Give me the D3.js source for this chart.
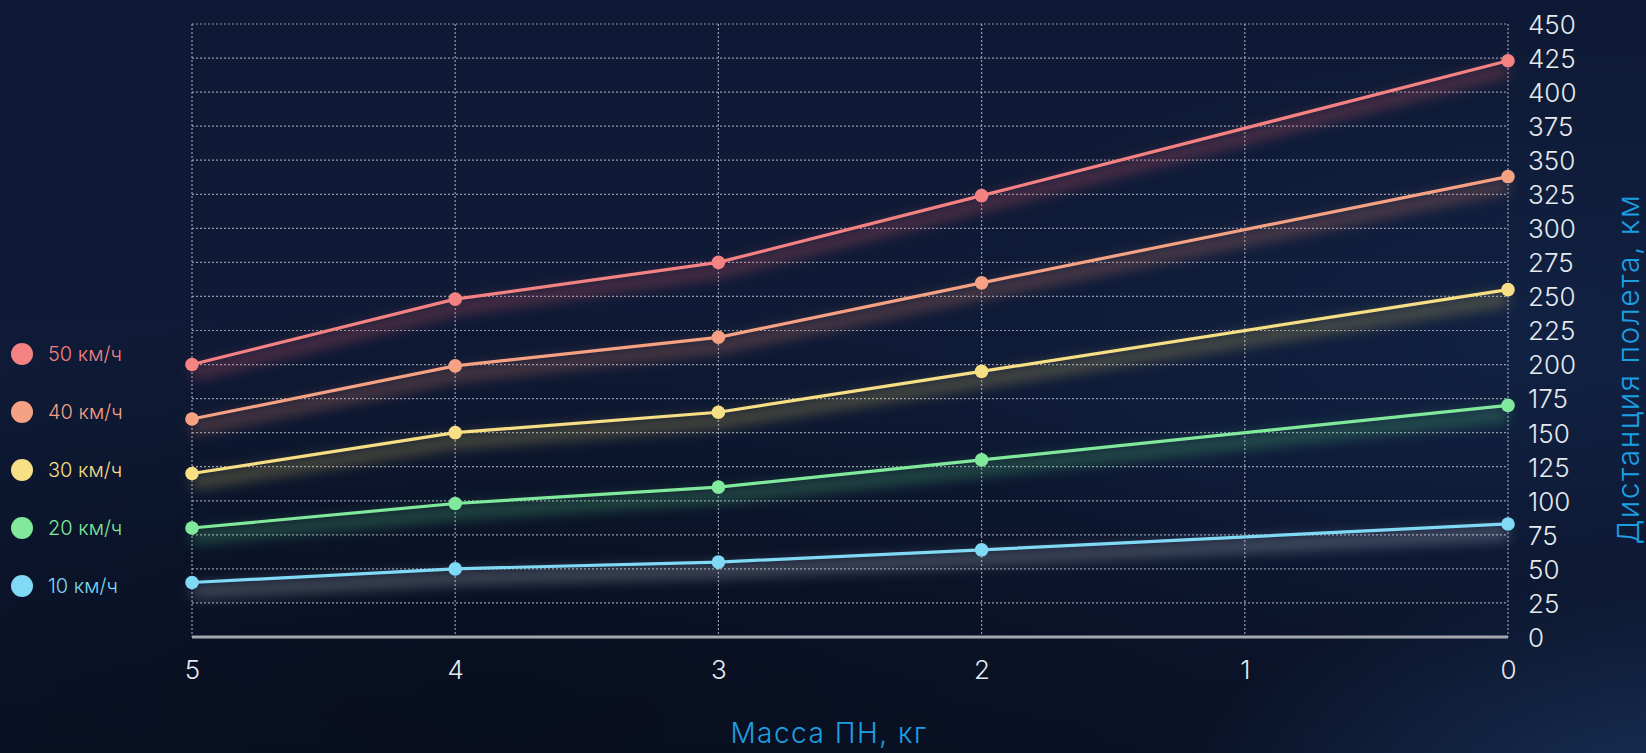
<!DOCTYPE html>
<html><head><meta charset="utf-8">
<script src="https://cdn.jsdelivr.net/npm/d3@7"></script>
<style>
html,body{margin:0;padding:0;background:#0d1830;overflow:hidden;}
svg{display:block;}
</style></head>
<body>
<svg id="chart" width="1646" height="753"></svg>
<script>
// ---- data ----
const masses = [5, 4, 3, 2, 0];
const xTicks = [5, 4, 3, 2, 1, 0];
const yTicks = [0,25,50,75,100,125,150,175,200,225,250,275,300,325,350,375,400,425,450];
const seriesNames = ["50 км/ч", "40 км/ч", "30 км/ч", "20 км/ч", "10 км/ч"];
const seriesColors = ["#f48282", "#f5a184", "#f6df84", "#80e99b", "#80d9f5"];
const glowColors = ["#f06070", "#f08a6a", "#e8cc60", "#5fd47f", "#d0d8e0"];
const s50 = [200, 248, 275, 324, 423];
const s40 = [160, 199, 220, 260, 338];
const s30 = [120, 150, 165, 195, 255];
const s20 = [80, 98, 110, 130, 170];
const s10 = [40, 50, 55, 64, 83];
const seriesValues = [s50, s40, s30, s20, s10];
const xTitle = "Масса ПН, кг";
const yTitle = "Дистанция полета, км";

(function(){
const svg = d3.select("#chart");
const W = 1646, H = 753;
const pL = 192, pR = 1508, pT = 24, pB = 637;

const defs = svg.append("defs");
const bg = defs.append("linearGradient").attr("id","bg").attr("x1","0").attr("y1","0").attr("x2","0").attr("y2","1");
bg.append("stop").attr("offset","0").attr("stop-color","#0e1a35");
bg.append("stop").attr("offset","0.55").attr("stop-color","#0e1a36");
bg.append("stop").attr("offset","1").attr("stop-color","#0a1226");
const dark = defs.append("radialGradient").attr("id","dark").attr("cx","0.3").attr("cy","0.95").attr("r","0.55");
dark.append("stop").attr("offset","0").attr("stop-color","#070d1c").attr("stop-opacity","0.75");
dark.append("stop").attr("offset","1").attr("stop-color","#070d1c").attr("stop-opacity","0");
const light = defs.append("radialGradient").attr("id","light").attr("cx","1.05").attr("cy","1.1").attr("r","0.35");
light.append("stop").attr("offset","0").attr("stop-color","#1c3a66").attr("stop-opacity","0.9");
light.append("stop").attr("offset","1").attr("stop-color","#1c3a66").attr("stop-opacity","0");
const rightLight = defs.append("radialGradient").attr("id","rlight").attr("cx","0.95").attr("cy","0.45").attr("r","0.4");
rightLight.append("stop").attr("offset","0").attr("stop-color","#13264a").attr("stop-opacity","0.6");
rightLight.append("stop").attr("offset","1").attr("stop-color","#13264a").attr("stop-opacity","0");

svg.append("rect").attr("width",W).attr("height",H).attr("fill","url(#bg)");
svg.append("rect").attr("width",W).attr("height",H).attr("fill","url(#rlight)");
svg.append("rect").attr("width",W).attr("height",H).attr("fill","url(#dark)");
svg.append("rect").attr("width",W).attr("height",H).attr("fill","url(#light)");

const f = defs.append("filter").attr("id","glow").attr("x","-10%").attr("y","-100%").attr("width","120%").attr("height","300%");
f.append("feGaussianBlur").attr("in","SourceGraphic").attr("stdDeviation","7");

const x = d3.scaleLinear().domain([5, 0]).range([pL, pR]);
const y = d3.scaleLinear().domain([0, 450]).range([pB, pT]);

const grid = svg.append("g");
grid.selectAll("line.h").data(yTicks.filter(d=>d>0)).join("line")
  .attr("x1", pL).attr("x2", pR).attr("y1", d=>y(d)).attr("y2", d=>y(d))
  .attr("stroke","#a8b0c0").attr("stroke-width",1.2).attr("stroke-dasharray","2,2").attr("opacity",0.85);
grid.selectAll("line.v").data(xTicks).join("line")
  .attr("x1", d=>x(d)).attr("x2", d=>x(d)).attr("y1", pT).attr("y2", pB)
  .attr("stroke","#a8b0c0").attr("stroke-width",1.2).attr("stroke-dasharray","2,2").attr("opacity",0.85);

svg.append("line").attr("x1",pL).attr("x2",pR).attr("y1",pB).attr("y2",pB)
  .attr("stroke","#a6a8b0").attr("stroke-width",3);

const xAxis = d3.axisBottom(x).tickValues(xTicks).tickSize(0).tickPadding(0).tickFormat(d3.format("d"));
const gx = svg.append("g").attr("transform",`translate(0,${pB})`).call(xAxis);
gx.select(".domain").remove();
gx.selectAll("text").attr("y", 42).attr("dy", null)
  .attr("fill","#e6eaf0").attr("font-family","Inter, sans-serif").attr("font-weight",300).attr("font-size",26);

const yAxis = d3.axisRight(y).tickValues(yTicks).tickSize(0).tickPadding(20);
const gy = svg.append("g").attr("transform",`translate(${pR},0)`).call(yAxis);
gy.select(".domain").remove();
gy.selectAll("text").attr("dy","0.36em")
  .attr("fill","#e6eaf0").attr("font-family","Inter, sans-serif").attr("font-weight",300).attr("font-size",26);

const line = d3.line().x((d,j)=>x(masses[j])).y(d=>y(d));
const sg = svg.append("g");
seriesValues.forEach((vals,i)=>{
  sg.append("path").datum(vals).attr("d", line).attr("fill","none")
    .attr("stroke", glowColors[i]).attr("stroke-width",12).attr("opacity",0.33)
    .attr("transform","translate(0,9)").attr("filter","url(#glow)");
});
seriesValues.forEach((vals,i)=>{
  sg.append("path").datum(vals).attr("d", line).attr("fill","none")
    .attr("stroke", seriesColors[i]).attr("stroke-width",3.2).attr("stroke-linejoin","round");
  sg.selectAll(null).data(vals).join("circle")
    .attr("cx",(d,j)=>x(masses[j])).attr("cy",d=>y(d)).attr("r",6.8).attr("fill",seriesColors[i]);
});

const lg = svg.append("g");
seriesNames.forEach((n,i)=>{
  const cy = 354 + i*58;
  lg.append("circle").attr("cx",22).attr("cy",cy).attr("r",11).attr("fill",seriesColors[i]);
  lg.append("text").attr("x",48).attr("y",cy).attr("dy","0.36em").text(n)
    .attr("fill",seriesColors[i]).attr("font-family","Inter, sans-serif").attr("font-weight",300).attr("font-size",20);
});

svg.append("text").attr("x",829).attr("y",743).attr("text-anchor","middle").text(xTitle)
  .attr("fill","#1c9fe2").attr("font-family","Inter, sans-serif").attr("font-weight",300)
  .attr("font-size",28).attr("letter-spacing",1.5);
svg.append("text").attr("transform","translate(1639,369) rotate(-90)").attr("text-anchor","middle").text(yTitle)
  .attr("fill","#1c9fe2").attr("font-family","Inter, sans-serif").attr("font-weight",300)
  .attr("font-size",30).attr("letter-spacing",1.5);
})();
</script>
</body></html>
